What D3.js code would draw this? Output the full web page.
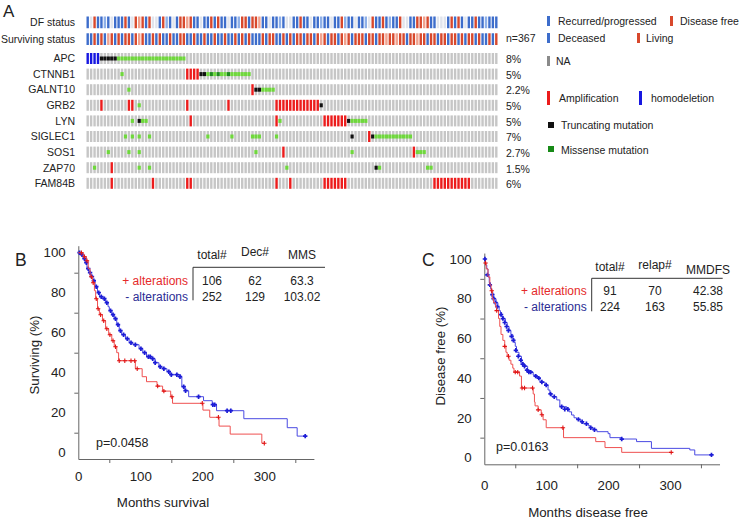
<!DOCTYPE html>
<html><head><meta charset="utf-8">
<script src="https://cdn.jsdelivr.net/npm/d3@7"></script>
<style>
body{margin:0;background:#fff}
text{font-family:"Liberation Sans",Arial,Helvetica,sans-serif;fill:#222}
</style>
</head><body>
<svg id="c" width="740" height="518"></svg>
<script>
// ---------------- DATA ----------------
const nCols = 120;
const statusRows = ["DF status", "Surviving status"];
const dfStatus = ["BnRBBbBnBB","BRBnRrRBRn","nBRbBnBRRr","RBBnBBRBRB","BnBBbRRBRR","rBBnBBbBnn",
                  "BBRBBnBBbB","BnBBRbBBnB","BbnRBBRBbB","BRnnBBRRrR","BBnnnBRBRB","nBBRBBbBBB"].join("");
const survStatus = ["BBRBRBrRBR","BRRBRrRBBR","BRBBRBBRRB","BRBBRBBRBB","RBBRBRBRBB","BRBRRBBRBR",
                    "BRRBRRBRrR","BRRBRrRBRR","RBRRBRRrRR","rRRBRRrRRB","RRBRRBRRBR","BRRBRBBRBR"].join("");
const genes = ["APC","CTNNB1","GALNT10","GRB2","LYN","SIGLEC1","SOS1","ZAP70","FAM84B"];
const genePct = ["8%","5%","2.2%","5%","5%","7%","2.7%","1.5%","6%"];
const sampleCount = "n=367";
// alteration runs per gene: [fromCol, toCol, type]  A=amplification D=homodeletion T=truncating M=missense m=missense(dark)
const altAPC     = [[0,3,"D"],[4,8,"T"],[9,28,"M"]];
const altCTNNB1  = [[10,10,"M"],[29,32,"A"],[33,34,"T"],[35,47,"M"],[36,36,"m"],[38,38,"m"],[41,41,"m"]];
const altGALNT10 = [[12,12,"M"],[48,48,"A"],[49,50,"T"],[51,54,"M"]];
const altGRB2    = [[4,4,"A"],[12,13,"A"],[15,15,"M"],[29,29,"A"],[41,41,"A"],[55,67,"A"],[68,68,"T"]];
const altLYN     = [[13,13,"M"],[15,15,"T"],[16,17,"M"],[30,30,"A"],[55,55,"A"],[56,56,"M"],[69,75,"A"],[76,76,"T"],[77,81,"M"]];
const altSIGLEC1 = [[11,11,"M"],[13,13,"M"],[15,15,"M"],[18,18,"M"],[35,35,"M"],[42,42,"M"],[48,50,"M"],[55,55,"M"],[77,77,"T"],[82,82,"A"],[83,83,"T"],[84,94,"M"]];
const altSOS1    = [[6,6,"M"],[12,12,"M"],[15,15,"M"],[49,49,"M"],[57,57,"A"],[77,77,"M"],[95,95,"A"],[96,98,"M"]];
const altZAP70   = [[2,2,"M"],[7,7,"A"],[15,15,"M"],[18,18,"M"],[58,58,"M"],[84,84,"T"],[85,85,"M"],[99,100,"M"]];
const altFAM84B  = [[7,7,"A"],[19,19,"A"],[29,30,"A"],[55,55,"A"],[59,59,"A"],[69,75,"A"],[101,111,"A"]];
const geneAlts = [altAPC,altCTNNB1,altGALNT10,altGRB2,altLYN,altSIGLEC1,altSOS1,altZAP70,altFAM84B];

// Kaplan-Meier: overall survival (months, %)
const osAlt = [[0,100],[8,98],[13,96],[16,92],[19,88],[23,85],[26,81],[28,77],[31,72],[34,69],[39,66],[44,62],[49,59],[54,56],[58,53],[62,50],[65,46],[92,42],[103,38],[110,35.5],[127,33.3],[136,30.8],[149,28],[152,24.7],[201,21.3],[212,17.7],[227,13.3],[245,9.3],[296,4.7],[300,4.7]];
const osAltCensor = [[5,100],[10,98],[14,96],[21,88],[24,85],[29,77],[32,72],[36,69],[41,66],[46,62],[51,59],[56,56],[60,53],[66,46],[75,46],[85,46],[91,46],[95,42],[128,33.3],[138,30.8],[151,28],[200,24.7],[226,17.7],[300,4.7]];
const osNoAlt = [[0,100],[4,99],[8,97],[11,95],[14,92],[17,90],[20,88],[23,86],[27,83],[31,80],[34,78],[40,77],[44,75],[48,73],[50,71],[54,69],[58,67],[62,64],[66,61],[70,59],[76,57],[82,55],[88,54],[98,52],[104,50],[110,48],[117,47],[124,45],[130,43],[135,42],[143,40.5],[148,39],[165,38],[167,33],[172,31],[178,28],[202,26],[216,24],[223,21],[267,17],[337,12.5],[353,8.3],[366,8.3]];
const osNoAltCensor = [[2,100],[6,99],[10,97],[13,95],[16,92],[19,90],[22,88],[25,86],[29,83],[33,80],[37,78],[42,77],[46,75],[52,71],[56,69],[60,67],[64,64],[68,61],[73,59],[79,57],[85,55],[92,54],[101,52],[107,50],[113,48],[116,48],[120,47],[124,45],[132,43],[138,42],[146,40.5],[150,39],[159,39],[164,38],[170,33],[173,31],[194,28],[217,24],[220,24],[240,21],[246,21],[366,8.3]];
const osHeader = ["total#","Dec#","MMS"];
const osRows = [["+ alterations","106","62","63.3"],["- alterations","252","129","103.02"]];
const osP = "p=0.0458";

// Kaplan-Meier: disease free
const dfsAlt = [[0,98],[3,95],[6,91],[9,87],[11,84],[13,80],[15,78],[18,76],[20,74],[23,70],[25,66],[27,62],[30,59],[33,56],[35,53],[37,51],[40,49],[43,47],[46,45],[48,43],[57,41],[60,35],[79,32],[81,28],[82,26],[87,24],[92,21.5],[95,19],[100,15],[128,10],[180,8],[195,5],[222,2.6],[302,2.6]];
const dfsAltCensor = [[2,98],[12,84],[20,74],[33,56],[39,51],[50,43],[54,43],[61,35],[65,35],[78,35],[87,24],[93,21.5],[127,15],[302,2.6]];
const dfsNoAlt = [[0,100],[2,97],[4,95],[6,91],[8,88],[10,85],[12,83],[14,81],[16,80],[19,78],[22,76],[24,74],[26,73],[28,71],[31,70],[34,68],[37,66],[40,64],[43,62],[46,60],[48,58],[50,56],[52,53],[56,51],[60,48],[63,47],[66,46],[70,44],[73,43],[79,41.5],[85,40],[90,38],[98,36.5],[103,34],[106,32],[109,30.6],[117,29],[122,25.6],[133,24.3],[137,23],[141,21.4],[145,20],[149,19.2],[155,18],[160,17],[168,16],[171,15],[176,14],[182,13],[200,12],[203,10],[222,9.3],[246,8],[270,4.6],[332,3.8],[340,1.3],[367,1.3]];
const dfsNoAltCensor = [[1,100],[5,92],[9,87],[13,82],[15,80],[18,78],[21,76],[27,72],[30,70],[33,68],[36,66],[39,64],[44,61],[47,59],[51,54],[55,51],[59,49],[62,47],[65,46],[69,44],[72,43],[75,43],[83,41],[88,40],[93,38],[100,36.5],[107,32],[113,30.6],[125,25.6],[130,24.3],[135,24.3],[152,19.2],[158,18],[165,17],[172,15],[178,14],[222,9.3],[367,1.3]];
const dfsHeader = ["total#","relap#","MMDFS"];
const dfsRows = [["+ alterations","91","70","42.38"],["- alterations","224","163","55.85"]];
const dfsP = "p=0.0163";

const yTicks = [0,20,40,60,80,100], yMinor = [10,30,50,70,90];
const xTicks = [0,100,200,300], xMinor = [50,150,250,350];

// ---------------- DRAW ----------------
const svg = d3.select("#c");
const FONT = '"Liberation Sans",Arial,Helvetica,sans-serif';
const statusColor = {B:"#3d6dcb", b:"#8fb0e8", R:"#d8482c", r:"#f0a28f", n:"#e1e4ec"};
const altColor = {A:"#ec1c1c", D:"#1717e0", T:"#111111", M:"#6fd83c", m:"#1e8c1e"};

svg.append("text").attr("x",3).attr("y",16.7).attr("font-size",17).text("A");

const colX = d3.scaleBand().domain(d3.range(nCols)).range([86.5,497.5]).paddingInner(0.3);
const bw = colX.bandwidth();
const stY = d3.scaleBand().domain(statusRows).range([16.5,45]).paddingInner(0.3);
const gY = d3.scaleBand().domain(genes).range([53,188.8]).paddingInner(0.295);

const onc = svg.append("g");
[dfStatus, survStatus].forEach((s,i)=>{
  const row = statusRows[i];
  onc.append("g").selectAll("rect").data(s.split("")).join("rect")
    .attr("x",(d,j)=>colX(j)).attr("y",stY(row)).attr("width",bw).attr("height",stY.bandwidth())
    .attr("fill",d=>statusColor[d]);
  onc.append("text").attr("x",75).attr("y",stY(row)+stY.bandwidth()/2+3.8)
    .attr("text-anchor","end").attr("font-size",10.5).text(row);
});
onc.append("text").attr("x",506).attr("y",stY("Surviving status")+stY.bandwidth()/2+3).attr("font-size",10.5).text(sampleCount);

genes.forEach((gname,i)=>{
  const cells = new Array(nCols).fill(null).map(()=>({full:null,mut:null}));
  geneAlts[i].forEach(([a,b,t])=>{
    for(let c=a;c<=b;c++){ if(t==="A"||t==="D") cells[c].full=t; else cells[c].mut=t; }
  });
  const y0 = gY(gname), h = gY.bandwidth();
  const g = onc.append("g");
  g.selectAll("rect.bg").data(cells).join("rect").attr("class","bg")
    .attr("x",(d,j)=>colX(j)).attr("y",y0).attr("width",bw).attr("height",h)
    .attr("fill",d=>d.full?altColor[d.full]:"#c6c6c6");
  g.selectAll("rect.mut").data(cells.map((d,j)=>({...d,j})).filter(d=>d.mut)).join("rect").attr("class","mut")
    .attr("x",d=>colX(d.j)-0.4).attr("y",y0+h/2-2).attr("width",bw+0.8).attr("height",4)
    .attr("fill",d=>altColor[d.mut]);
  onc.append("text").attr("x",75).attr("y",y0+h/2+3.8).attr("text-anchor","end").attr("font-size",10.5).text(gname);
  onc.append("text").attr("x",506).attr("y",y0+h/2+4.8).attr("font-size",10.5).text(genePct[i]);
});

// legend
const lg = svg.append("g").attr("font-size",10.5);
function lgBar(x,y,h,col){ lg.append("rect").attr("x",x).attr("y",y).attr("width",3).attr("height",h).attr("fill",col); }
function lgText(x,y,t){ lg.append("text").attr("x",x).attr("y",y).attr("font-size",10.5).text(t); }
lgBar(547,16,10,statusColor.B); lgText(558,25,"Recurred/progressed");
lgBar(670,16,10,statusColor.R); lgText(680,25,"Disease free");
lgBar(547,33,10,statusColor.B); lgText(558,41.5,"Deceased");
lgBar(637,33,10,statusColor.R); lgText(646,41.5,"Living");
lgBar(547,56,10,"#8a8a8a"); lgText(556,64.5,"NA");
lgBar(547,91,14,altColor.A); lgText(559,101.5,"Amplification");
lgBar(639,91,14,altColor.D); lgText(651,101.5,"homodeletion");
lg.append("rect").attr("x",548).attr("y",122).attr("width",6).attr("height",6).attr("fill","#111");
lgText(561,129,"Truncating mutation");
lg.append("rect").attr("x",548).attr("y",146).attr("width",6).attr("height",6).attr("fill","#178a17");
lgText(561,153.5,"Missense mutation");

// KM panels
const redLine="#ef5050", redMark="#e01414", blueLine="#4a4ae2", blueMark="#1c1cd6";
function drawKM(o){
  const g = svg.append("g");
  const x = d3.scaleLinear().domain([0,380]).range([o.x0, o.x0+o.xk*380]);
  const y = d3.scaleLinear().domain([o.yLo,o.yHi]).range([o.axisY, o.axisY-o.yk*(o.yHi-o.yLo)]);
  const ya = g.append("g").attr("transform",`translate(${o.x0},0)`)
    .call(d3.axisLeft(y).tickValues(yTicks).tickSize(0).tickSizeOuter(0).tickPadding(12.6));
  g.append("g").attr("transform",`translate(${o.x0},0)`)
    .call(d3.axisLeft(y).tickValues(yMinor).tickSize(4).tickFormat("")).select(".domain").remove();
  const xa = g.append("g").attr("transform",`translate(0,${o.axisY})`)
    .call(d3.axisBottom(x).tickValues(xTicks).tickSize(0).tickSizeOuter(0).tickPadding(o.xPad));
  g.append("g").attr("transform",`translate(0,${o.axisY})`)
    .call(d3.axisBottom(x).tickValues(xMinor).tickSize(4).tickFormat("")).select(".domain").remove();
  g.selectAll(".domain").attr("stroke","#666");
  g.selectAll(".tick line").attr("stroke","#666");
  g.selectAll(".tick text").attr("font-size",13.3).attr("font-family",FONT).attr("fill","#222");

  const line = d3.line().x(d=>x(d[0])).y(d=>y(d[1])).curve(d3.curveStepAfter);
  const cross = "M-2.2,0H2.2M0,-2.2V2.2";
  [[o.noAlt,o.noAltC,blueLine,blueMark,1.7],[o.alt,o.altC,redLine,redMark,1.1]].forEach(([pts,cs,lc,mc,sw])=>{
    g.append("path").datum(pts).attr("d",line).attr("fill","none").attr("stroke",lc).attr("stroke-width",1);
    g.append("g").selectAll("path").data(cs).join("path")
      .attr("transform",d=>`translate(${x(d[0])},${y(d[1])})`).attr("d",cross)
      .attr("stroke",mc).attr("stroke-width",sw).attr("fill","none");
  });

  // labels
  g.append("text").attr("x",o.letterX).attr("y",o.letterY).attr("font-size",17.5).text(o.letter);
  g.append("text").attr("transform",`translate(${o.ytX},${o.ytY}) rotate(-90)`).attr("text-anchor","middle")
    .attr("font-size",13.3).text(o.yTitle);
  g.append("text").attr("x",o.xtX).attr("y",o.xtY).attr("text-anchor","middle").attr("font-size",13.3).text(o.xTitle);
  g.append("text").attr("x",o.pX).attr("y",o.pY).attr("font-size",12.5).text(o.p);

  // table
  o.header.forEach((h,i)=>g.append("text").attr("x",o.colX[i]).attr("y",o.headY[i]).attr("text-anchor","middle").attr("font-size",12).text(h));
  g.append("line").attr("x1",o.tblX).attr("x2",o.tblX2).attr("y1",o.tblY).attr("y2",o.tblY).attr("stroke","#333");
  g.append("line").attr("x1",o.tblX).attr("x2",o.tblX).attr("y1",o.tblY).attr("y2",o.tblY+33).attr("stroke","#333");
  o.rows.forEach((r,ri)=>{
    const yy = o.rowY[ri];
    g.append("text").attr("x",o.tblX-5).attr("y",yy).attr("text-anchor","end").attr("font-size",12)
      .style("fill",ri===0?"#e52a2a":"#2c2c94").text(r[0]);
    r.slice(1).forEach((v,ci)=>g.append("text").attr("x",o.colX[ci]).attr("y",yy).attr("text-anchor","middle").attr("font-size",12).text(v));
  });
}

drawKM({x0:78.3,xk:0.62,axisY:459,yk:2,yLo:-3.15,yHi:103.5,xPad:12.6,
  alt:osAlt,altC:osAltCensor,noAlt:osNoAlt,noAltC:osNoAltCensor,
  letter:"B",letterX:15,letterY:265.7,yTitle:"Surviving (%)",ytX:38.5,ytY:355,
  xTitle:"Months survival",xtX:163,xtY:506.7,p:osP,pX:96,pY:446.5,
  header:osHeader,headY:[259,256,259],colX:[212,255,302],tblX:193,tblX2:325,tblY:267.3,rowY:[284.5,300.5],rows:osRows});

drawKM({x0:484.3,xk:0.619,axisY:464.3,yk:1.985,yLo:-3.43,yHi:103,xPad:16.3,
  alt:dfsAlt,altC:dfsAltCensor,noAlt:dfsNoAlt,noAltC:dfsNoAltCensor,
  letter:"C",letterX:422,letterY:266,yTitle:"Disease free (%)",ytX:444.5,ytY:356,
  xTitle:"Months disease free",xtX:588,xtY:516.5,p:dfsP,pX:496,pY:451,
  header:dfsHeader,headY:[271,269,274],colX:[610,655,708],tblX:591.7,tblX2:722.7,tblY:278.3,rowY:[295,311],rows:dfsRows});
</script>
</body></html>
